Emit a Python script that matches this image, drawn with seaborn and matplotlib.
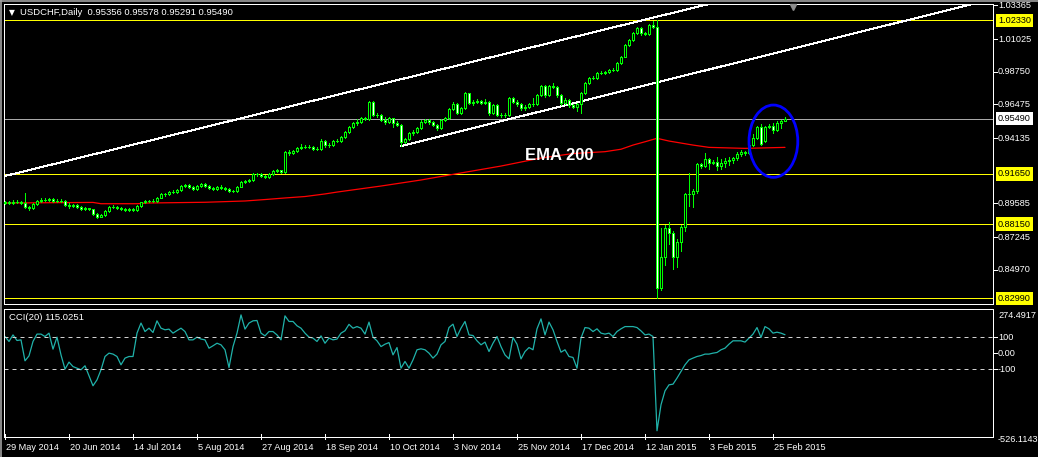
import numpy as np
import matplotlib
matplotlib.use("Agg")
import matplotlib.pyplot as plt
import matplotlib.transforms as mtransforms
from matplotlib.patches import Ellipse
import seaborn as sns

# ---------------- data ----------------
opens = [
    0.8962, 0.8967, 0.8960, 0.8972, 0.8971, 0.8964, 0.8934, 0.8924, 0.8955, 0.8978,
    0.8983, 0.8986, 0.8990, 0.8976, 0.8979, 0.8976, 0.8948, 0.8938, 0.8945, 0.8936,
    0.8920, 0.8924, 0.8917, 0.8885, 0.8868, 0.8878, 0.8906, 0.8932, 0.8936, 0.8929,
    0.8918, 0.8913, 0.8918, 0.8913, 0.8941, 0.8967, 0.8976, 0.8978, 0.8976, 0.8999,
    0.9022, 0.9022, 0.9036, 0.9041, 0.9052, 0.9080, 0.9087, 0.9073, 0.9059, 0.9082,
    0.9092, 0.9082, 0.9066, 0.9059, 0.9075, 0.9064, 0.9059, 0.9042, 0.9045, 0.9075,
    0.9110, 0.9117, 0.9122, 0.9162, 0.9162, 0.9153, 0.9145, 0.9162, 0.9185, 0.9189,
    0.9176, 0.9319, 0.9308, 0.9324, 0.9342, 0.9354, 0.9354, 0.9352, 0.9338, 0.9338,
    0.9393, 0.9365, 0.9365, 0.9393, 0.9395, 0.9423, 0.9458, 0.9489, 0.9516, 0.9527,
    0.9551, 0.9546, 0.9667, 0.9574, 0.9574, 0.9539, 0.9527, 0.9551, 0.9516, 0.9505,
    0.9388, 0.9405, 0.9447, 0.9458, 0.9482, 0.9527, 0.9539, 0.9527, 0.9505, 0.9482,
    0.9539, 0.9551, 0.9614, 0.9649, 0.9586, 0.9621, 0.9725, 0.9656, 0.9667, 0.9674,
    0.9656, 0.9667, 0.9586, 0.9644, 0.9574, 0.9574, 0.9574, 0.9690, 0.9667, 0.9649,
    0.9621, 0.9632, 0.9649, 0.9649, 0.9713, 0.9776, 0.9713, 0.9776, 0.9771, 0.9713,
    0.9656, 0.9678, 0.9644, 0.9632, 0.9649, 0.9725, 0.9795, 0.9834, 0.9834, 0.9868,
    0.9868, 0.9871, 0.9887, 0.9887, 0.9934, 0.9980, 1.0061, 1.0096, 1.0143, 1.0177,
    1.0143, 1.0138, 1.0200, 1.0188, 0.8369, 0.8588, 0.8786, 0.8751, 0.8588, 0.8693,
    0.8797, 0.9022, 0.9022, 0.9045, 0.9233, 0.9219, 0.9266, 0.9240, 0.9247, 0.9219,
    0.9240, 0.9254, 0.9261, 0.9273, 0.9301, 0.9319, 0.9308, 0.9365, 0.9412, 0.9493,
    0.9395, 0.9493, 0.9500, 0.9470, 0.9521, 0.95356,
]
highs = [
    0.8978, 0.8975, 0.8980, 0.8982, 0.8977, 0.9034, 0.8944, 0.8963, 0.8986, 0.8996,
    0.8995, 0.9000, 0.8998, 0.8990, 0.8988, 0.8982, 0.8960, 0.8955, 0.8952, 0.8944,
    0.8935, 0.8930, 0.8922, 0.8890, 0.8885, 0.8912, 0.8940, 0.8946, 0.8942, 0.8934,
    0.8925, 0.8927, 0.8924, 0.8948, 0.8972, 0.8984, 0.8986, 0.8987, 0.9006, 0.9030,
    0.9033, 0.9044, 0.9050, 0.9060, 0.9087, 0.9096, 0.9093, 0.9078, 0.9090, 0.9101,
    0.9098, 0.9088, 0.9072, 0.9082, 0.9090, 0.9070, 0.9066, 0.9053, 0.9082, 0.9116,
    0.9125, 0.9132, 0.9170, 0.9172, 0.9168, 0.9160, 0.9170, 0.9192, 0.9200, 0.9194,
    0.9326, 0.9330, 0.9333, 0.9352, 0.9370, 0.9366, 0.9364, 0.9358, 0.9350, 0.9405,
    0.9400, 0.9378, 0.9400, 0.9405, 0.9430, 0.9465, 0.9497, 0.9524, 0.9545, 0.9560,
    0.9562, 0.9675, 0.9672, 0.9590, 0.9580, 0.9560, 0.9562, 0.9556, 0.9530, 0.9512,
    0.9412, 0.9455, 0.9468, 0.9490, 0.9540, 0.9548, 0.9545, 0.9535, 0.9512, 0.9546,
    0.9562, 0.9622, 0.9665, 0.9660, 0.9630, 0.9735, 0.9730, 0.9680, 0.9685, 0.9682,
    0.9688, 0.9672, 0.9652, 0.9650, 0.9588, 0.9590, 0.9698, 0.9700, 0.9676, 0.9656,
    0.9645, 0.9660, 0.9690, 0.9722, 0.9785, 0.9782, 0.9784, 0.9800, 0.9778, 0.9720,
    0.9690, 0.9684, 0.9652, 0.9658, 0.9732, 0.9802, 0.9842, 0.9846, 0.9876, 0.9878,
    0.9880, 0.9895, 0.9898, 0.9942, 0.9988, 1.0068, 1.0104, 1.0152, 1.0186, 1.0184,
    1.0155, 1.0210, 1.0225, 1.0233, 0.8790, 0.8812, 0.8830, 0.8765, 0.8710, 0.8806,
    0.9030, 0.9170, 0.9058, 0.9242, 0.9240, 0.9310, 0.9275, 0.9260, 0.9280, 0.9266,
    0.9278, 0.9280, 0.9285, 0.9315, 0.9330, 0.9326, 0.9372, 0.9440, 0.9500, 0.9510,
    0.9500, 0.9513, 0.9520, 0.9530, 0.9540, 0.95578,
]
lows = [
    0.8955, 0.8952, 0.8955, 0.8963, 0.8958, 0.8928, 0.8916, 0.8918, 0.8950, 0.8970,
    0.8975, 0.8977, 0.8968, 0.8970, 0.8968, 0.8942, 0.8930, 0.8932, 0.8929, 0.8914,
    0.8913, 0.8910, 0.8878, 0.8860, 0.8862, 0.8872, 0.8900, 0.8925, 0.8922, 0.8910,
    0.8906, 0.8905, 0.8903, 0.8909, 0.8936, 0.8960, 0.8970, 0.8969, 0.8971, 0.8995,
    0.9012, 0.9015, 0.9030, 0.9035, 0.9047, 0.9072, 0.9066, 0.9052, 0.9053, 0.9075,
    0.9074, 0.9058, 0.9050, 0.9053, 0.9057, 0.9050, 0.9036, 0.9036, 0.9040, 0.9070,
    0.9103, 0.9110, 0.9117, 0.9152, 0.9145, 0.9137, 0.9138, 0.9157, 0.9178, 0.9168,
    0.9172, 0.9296, 0.9300, 0.9318, 0.9336, 0.9344, 0.9342, 0.9330, 0.9328, 0.9332,
    0.9355, 0.9355, 0.9360, 0.9384, 0.9388, 0.9417, 0.9452, 0.9482, 0.9505, 0.9520,
    0.9537, 0.9540, 0.9565, 0.9562, 0.9530, 0.9510, 0.9520, 0.9490, 0.9495, 0.9358,
    0.9378, 0.9398, 0.9438, 0.9450, 0.9475, 0.9518, 0.9515, 0.9497, 0.9470, 0.9476,
    0.9530, 0.9545, 0.9606, 0.9578, 0.9580, 0.9615, 0.9648, 0.9645, 0.9658, 0.9648,
    0.9650, 0.9576, 0.9580, 0.9565, 0.9560, 0.9560, 0.9568, 0.9655, 0.9640, 0.9612,
    0.9612, 0.9625, 0.9640, 0.9642, 0.9705, 0.9700, 0.9706, 0.9760, 0.9700, 0.9645,
    0.9648, 0.9632, 0.9622, 0.9600, 0.9586, 0.9718, 0.9788, 0.9825, 0.9828, 0.9858,
    0.9860, 0.9864, 0.9878, 0.9880, 0.9928, 0.9975, 1.0052, 1.0090, 1.0136, 1.0132,
    1.0128, 1.0130, 1.0180, 0.8299, 0.8360, 0.8530, 0.8680, 0.8500, 0.8520, 0.8630,
    0.8770, 0.8940, 0.8935, 0.9035, 0.9205, 0.9210, 0.9200, 0.9230, 0.9190, 0.9200,
    0.9215, 0.9225, 0.9240, 0.9262, 0.9290, 0.9295, 0.9300, 0.9358, 0.9405, 0.9362,
    0.9388, 0.9485, 0.9448, 0.9462, 0.9487, 0.95291,
]
closes = [
    0.8967, 0.8960, 0.8972, 0.8971, 0.8964, 0.8934, 0.8924, 0.8955, 0.8978, 0.8983,
    0.8986, 0.8990, 0.8976, 0.8979, 0.8976, 0.8948, 0.8938, 0.8945, 0.8936, 0.8920,
    0.8924, 0.8917, 0.8885, 0.8868, 0.8878, 0.8906, 0.8932, 0.8936, 0.8929, 0.8918,
    0.8913, 0.8918, 0.8913, 0.8941, 0.8967, 0.8976, 0.8978, 0.8976, 0.8999, 0.9022,
    0.9022, 0.9036, 0.9041, 0.9052, 0.9080, 0.9087, 0.9073, 0.9059, 0.9082, 0.9092,
    0.9082, 0.9066, 0.9059, 0.9075, 0.9064, 0.9059, 0.9042, 0.9045, 0.9075, 0.9110,
    0.9117, 0.9122, 0.9162, 0.9162, 0.9153, 0.9145, 0.9162, 0.9185, 0.9189, 0.9176,
    0.9319, 0.9308, 0.9324, 0.9342, 0.9354, 0.9354, 0.9352, 0.9338, 0.9338, 0.9393,
    0.9365, 0.9365, 0.9393, 0.9395, 0.9423, 0.9458, 0.9489, 0.9516, 0.9527, 0.9551,
    0.9546, 0.9667, 0.9574, 0.9574, 0.9539, 0.9527, 0.9551, 0.9516, 0.9505, 0.9388,
    0.9405, 0.9447, 0.9458, 0.9482, 0.9527, 0.9539, 0.9527, 0.9505, 0.9482, 0.9539,
    0.9551, 0.9614, 0.9649, 0.9586, 0.9621, 0.9725, 0.9656, 0.9667, 0.9674, 0.9656,
    0.9667, 0.9586, 0.9644, 0.9574, 0.9574, 0.9574, 0.9690, 0.9667, 0.9649, 0.9621,
    0.9632, 0.9649, 0.9649, 0.9713, 0.9776, 0.9713, 0.9776, 0.9771, 0.9713, 0.9656,
    0.9678, 0.9644, 0.9632, 0.9649, 0.9725, 0.9795, 0.9834, 0.9834, 0.9868, 0.9868,
    0.9871, 0.9887, 0.9887, 0.9934, 0.9980, 1.0061, 1.0096, 1.0143, 1.0177, 1.0143,
    1.0138, 1.0200, 1.0188, 0.8369, 0.8588, 0.8786, 0.8751, 0.8588, 0.8693, 0.8797,
    0.9022, 0.9022, 0.9045, 0.9233, 0.9219, 0.9266, 0.9240, 0.9247, 0.9219, 0.9240,
    0.9254, 0.9261, 0.9273, 0.9301, 0.9319, 0.9308, 0.9365, 0.9412, 0.9493, 0.9370,
    0.9493, 0.9500, 0.9470, 0.9521, 0.9529, 0.95490,
]
cci = [
    104, 73, 114, 79, 83, -48, -17, 73, 119, 119,
    104, 125, 25, 100, -11, -100, -56, -84, -94, -104,
    -79, -142, -204, -167, -104, -21, 0, -6, -21, -73,
    -31, -21, -21, 125, 188, 135, 156, 129, 202, 156,
    146, 150, 125, 141, 156, 135, 83, 83, 100, 88,
    83, 31, 46, 62, 52, 21, -90, 41, 125, 239,
    150, 188, 202, 204, 125, 108, 135, 135, 114, 83,
    233, 198, 198, 171, 156, 125, 100, 94, 73, 108,
    62, 94, 83, 88, 125, 140, 180, 156, 166, 156,
    119, 194, 100, 77, 41, 56, 66, -11, 35, -94,
    -52, -94, -42, 21, 27, 21, 0, -31, -6, 52,
    73, 160, 181, 104, 156, 198, 114, 110, 77, 52,
    69, 10, 62, 104, 41, -11, -36, 98, 56, -36,
    10, 35, 21, 152, 214, 114, 194, 146, 73, 6,
    21, -21, -27, -94, 94, 160, 156, 135, 152, 125,
    119, 125, 104, 135, 152, 166, 166, 166, 160, 139,
    114, 119, 104, -485, -323, -236, -198, -194, -156, -115,
    -73, -42, -31, -21, -15, -6, -6, 0, 4, 21,
    31, 56, 77, 77, 77, 69, 94, 119, 160, 98,
    166, 152, 125, 131, 125, 115.0251,
]
ema_bars = [0, 22, 24, 33, 36, 50, 60, 65, 70, 75, 80, 83, 94, 104, 114, 124, 134,
            142, 150, 154, 157, 160, 163, 166, 169, 172, 176, 185, 195]
ema_vals = [0.8962, 0.8966, 0.8957, 0.8957, 0.8962, 0.8967, 0.8976, 0.8986, 0.8997,
            0.9007, 0.9025, 0.9038, 0.9080, 0.9122, 0.9171, 0.9219, 0.9275, 0.9306,
            0.9319, 0.9336, 0.9365, 0.9388, 0.9412, 0.9393, 0.9379, 0.9365, 0.9349,
            0.9342, 0.9349]

date_labels = ["29 May 2014", "20 Jun 2014", "14 Jul 2014", "5 Aug 2014", "27 Aug 2014",
               "18 Sep 2014", "10 Oct 2014", "3 Nov 2014", "25 Nov 2014", "17 Dec 2014",
               "12 Jan 2015", "3 Feb 2015", "25 Feb 2015"]
date_tick_bars = [0, 16, 32, 48, 64, 80, 96, 112, 128, 144, 160, 176, 192]
price_ticks = [1.03365, 1.01025, 0.98750, 0.96475, 0.94135,
               0.89585, 0.87245, 0.84970]
level_lines = [1.02330, 0.91650, 0.88150, 0.82990]
bid_price = 0.95490
cci_levels = [100, -100]
cci_max, cci_min = 274.4917, -526.1143
upper_channel = [(0, 0.9150), (163, 1.0258)]
lower_channel = [(99, 0.9358), (136, 0.9614)]
ellipse_center = (192.1, 0.9392)
ellipse_size = (12.2, 0.0503)
ema_text_pos = (138.5, 0.92959)

n = len(closes)
assert len(opens) == n and len(highs) == n and len(lows) == n and len(cci) == n

# ---------------- style ----------------
sns.set_theme(style="dark", rc={"axes.facecolor": "black", "figure.facecolor": "black",
                                "axes.edgecolor": "white", "axes.grid": False})
plt.rcParams["font.family"] = ["Liberation Sans", "DejaVu Sans"]

W, H = 1038, 457
PX = 0.72  # one pixel in points at 100 dpi
fig = plt.figure(figsize=(W / 100, H / 100), dpi=100, facecolor="black")

def fx(px):
    return px / W

def fy(py):
    return 1 - py / H

ax = fig.add_axes([fx(4), fy(304), fx(993) - fx(4), fy(3.5) - fy(304)])
ax2 = fig.add_axes([fx(4), fy(436.5), fx(993) - fx(4), fy(308.5) - fy(436.5)])

for a in (ax, ax2):
    a.set_facecolor("black")
    for s in a.spines.values():
        s.set_color("white")
        s.set_linewidth(PX)
    a.set_xticks([])
    a.set_yticks([])

GREEN = "#00FF00"
x = np.arange(n)
o = np.array(opens); c = np.array(closes); h = np.array(highs); l = np.array(lows)

# horizontal levels
for v in level_lines:
    ax.axhline(v, color="#FFFF00", lw=PX, zorder=1, antialiased=False)
ax.axhline(bid_price, color="#A8A8A8", lw=PX, zorder=1, antialiased=False)

# channel trend lines (rays to the right)
(x1, y1), (x2, y2) = upper_channel
s1 = (y2 - y1) / (x2 - x1)
ax.plot([-1, 260], [y1 + s1 * (-1 - x1), y1 + s1 * (260 - x1)], color="white", lw=PX,
        zorder=1.5, antialiased=False)
(x3, y3), (x4, y4) = lower_channel
s2 = (y4 - y3) / (x4 - x3)
ax.plot([x3, 260], [y3, y3 + s2 * (260 - x3)], color="white", lw=PX, zorder=1.5,
        antialiased=False)

# EMA 200
sns.lineplot(x=ema_bars, y=ema_vals, ax=ax, color="#FF0000", lw=0.9, zorder=2)

# candles
ax.vlines(x, l, h, colors=GREEN, lw=PX, zorder=3, antialiased=False)
up = c >= o
ax.bar(x, np.abs(c - o), bottom=np.minimum(o, c), width=0.55,
       color=np.where(up, "black", "white"), edgecolor=GREEN, linewidth=PX,
       zorder=4, antialiased=False)

# ellipse
ax.add_patch(Ellipse(ellipse_center, ellipse_size[0], ellipse_size[1], fill=False,
                     edgecolor="#0000FF", lw=2.0, zorder=6))

# EMA label
ax.text(ema_text_pos[0], ema_text_pos[1], "EMA 200", color="white", fontsize=12,
        fontweight="bold", ha="center", va="center", zorder=7)

ax.set_xlim(-0.25, 247.0)
ax.set_ylim(0.82593, 1.03499)
ax.set_xlabel(""); ax.set_ylabel("")

# price axis labels
tr = mtransforms.blended_transform_factory(ax.transAxes, ax.transData)
tr_lab = mtransforms.offset_copy(tr, fig=fig, x=5, y=0, units="dots")
for p in price_ticks:
    ax.plot([1.0, 1.0 + 4 / 989], [p, p], transform=tr, color="white", lw=PX,
            clip_on=False, antialiased=False)
    ax.text(1.0, p, f"{p:.5f}", transform=tr_lab, color="white", fontsize=6.6,
            va="center", ha="left", clip_on=False, zorder=8)
for v in level_lines:
    ax.text(1.0, v, f"{v:.5f}", transform=tr_lab, color="black", fontsize=6.6,
            va="center", ha="left", clip_on=False, zorder=9,
            bbox=dict(boxstyle="square,pad=0.25", fc="#FFFF00", ec="none"))
ax.text(1.0, bid_price, f"{bid_price:.5f}", transform=tr_lab, color="black", fontsize=6.6,
        va="center", ha="left", clip_on=False, zorder=9,
        bbox=dict(boxstyle="square,pad=0.25", fc="white", ec="none"))

# chart shift marker
ax.plot([(793 - 4) / 989], [1 - 3 / 300.5], marker="v", ms=5, color="#8C8C8C",
        transform=ax.transAxes, clip_on=False, zorder=9)

# header
fig.text(fx(9), fy(12.5), "\u25BC", color="white", fontsize=5.5, va="center",
         ha="left", family=["DejaVu Sans"])
fig.text(fx(20), fy(12.5), "USDCHF,Daily  0.95356 0.95578 0.95291 0.95490",
         color="white", fontsize=6.8, va="center", ha="left")

# ---------------- CCI panel ----------------
sns.lineplot(x=x, y=cci, ax=ax2, color="#20B2AA", lw=0.9)
for lv in cci_levels:
    ax2.axhline(lv, color="#D0D0D0", lw=PX, ls=(0, (4, 4)))
ax2.set_xlim(-0.25, 247.0)
ax2.set_ylim(-521, 279)
ax2.set_xlabel(""); ax2.set_ylabel("")

tr2 = mtransforms.blended_transform_factory(ax2.transAxes, ax2.transData)
tr2_lab = mtransforms.offset_copy(tr2, fig=fig, x=5, y=0, units="dots")
for lv, txt in [(100, "100"), (0, "0.00"), (-100, "-100")]:
    ax2.plot([1.0, 1.0 + 4 / 989], [lv, lv], transform=tr2, color="white", lw=PX,
             clip_on=False, antialiased=False)
    ax2.text(1.0, lv, txt, transform=tr2_lab, color="white", fontsize=6.6,
             va="center", ha="left", clip_on=False)
ax2.text(1.0, 1.0, f"{cci_max:.4f}", color="white", fontsize=6.6, va="top", ha="left",
         transform=mtransforms.offset_copy(ax2.transAxes, fig=fig, x=5, y=-2, units="dots"),
         clip_on=False)
ax2.text(1.0, 0.0, f"{cci_min:.4f}", color="white", fontsize=6.6, va="center", ha="left",
         transform=mtransforms.offset_copy(ax2.transAxes, fig=fig, x=5, y=-2.5, units="dots"),
         clip_on=False)
fig.text(fx(9), fy(317), f"CCI(20) {cci[-1]:.4f}", color="white", fontsize=6.8,
         va="center", ha="left")

# date axis
trd = mtransforms.blended_transform_factory(ax2.transData, ax2.transAxes)
trd_lab = mtransforms.blended_transform_factory(ax2.transData, fig.transFigure)
trd_lab = mtransforms.offset_copy(trd_lab, fig=fig, x=1, y=0, units="dots")
for b, lab in zip(date_tick_bars, date_labels):
    ax2.plot([b, b], [-0.02, 0.02], transform=trd, color="white", lw=PX, clip_on=False,
             antialiased=False)
    ax2.text(b, fy(447), lab, transform=trd_lab, color="white", fontsize=6.6,
             va="center", ha="left", clip_on=False)

# window frame (grey, top/left)
fig.add_artist(plt.Line2D([0, 1], [1 - 0.6 / H, 1 - 0.6 / H], transform=fig.transFigure,
                          color="#A0A0A0", lw=1.2))
fig.add_artist(plt.Line2D([0.6 / W, 0.6 / W], [0, 1], transform=fig.transFigure,
                          color="#A0A0A0", lw=1.2))

fig.savefig("out.png", dpi=100, facecolor="black")
